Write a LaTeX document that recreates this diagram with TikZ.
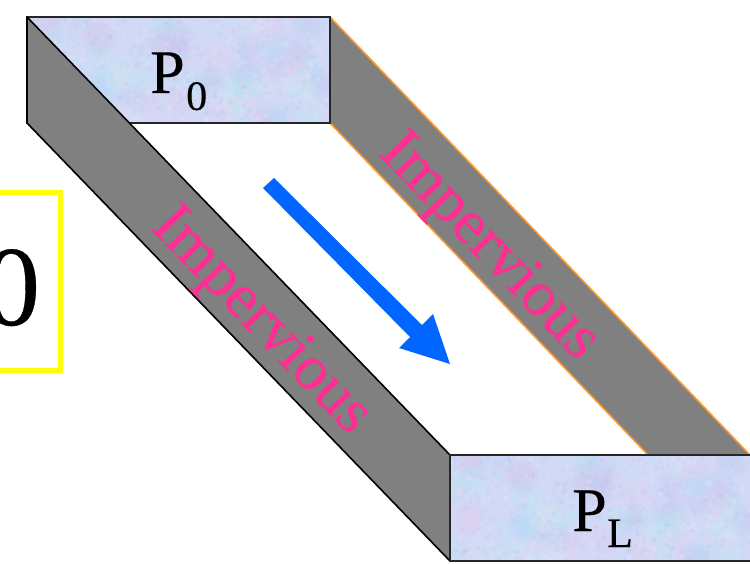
\documentclass[tikz,border=0pt]{standalone}
\usepackage{fontspec}
\setmainfont[RawFeature={embolden=0.3}]{Liberation Serif}
\definecolor{tintA}{HTML}{B0DEF8}
\definecolor{tintB}{HTML}{ECCCF0}
\definecolor{tintC}{HTML}{B4ECF0}
\definecolor{tintD}{HTML}{BCC4F0}
\definecolor{tintE}{HTML}{E6E8FA}
\definecolor{porous}{HTML}{D2D9F6}
\definecolor{wall}{HTML}{808080}
\definecolor{edgeorange}{HTML}{FF9A2E}
\definecolor{flowblue}{HTML}{0066FF}
\definecolor{labelpink}{HTML}{FF2E93}
\definecolor{boxyellow}{HTML}{FFFF00}
\pgfmathdeclarerandomlist{tints}{{tintA}{tintB}{tintC}{tintD}{tintE}}
\newcommand{\mottle}[2]{%
  \begin{scope}[shift={(#1,#2)}]
    \clip (0,0) rectangle (303,106);
    \fill[porous] (0,0) rectangle (303,106);
    \pgfmathsetseed{4711}
    \foreach \k in {1,...,60}{%
      \pgfmathsetmacro\rx{rnd*303}\pgfmathsetmacro\ry{rnd*106}%
      \pgfmathrandomitem{\tint}{tints}%
      \fill[\tint,opacity=.12] (\rx,\ry) circle[radius=17];
      \fill[\tint,opacity=.12] (\rx,\ry) circle[radius=12];
      \fill[\tint,opacity=.12] (\rx,\ry) circle[radius=7];
    }
    \foreach \k in {1,...,1100}{%
      \pgfmathsetmacro\rx{rnd*303}\pgfmathsetmacro\ry{rnd*106}%
      \pgfmathrandomitem{\tint}{tints}%
      \fill[\tint,opacity=.22] (\rx,\ry) circle[radius=2.4];
    }
  \end{scope}
}
\tikzset{
  outline/.style={draw=black!85,line width=1.8pt},
  wallface/.style={fill=wall},
  wallline/.style={draw=black,line width=1.6pt,line join=round},
  orangeline/.style={draw=edgeorange,line width=1.6pt},
  imperv/.style={text=labelpink,font=\fontsize{63.5}{64}\selectfont,rotate=-46,inner sep=0pt},
  pressure/.style={text=black,font=\fontsize{62}{62}\selectfont,inner sep=0pt,anchor=base west},
  pressuresub/.style={text=black,font=\fontsize{42}{42}\selectfont,inner sep=0pt,anchor=base west},
}
\begin{document}
\begin{tikzpicture}[x=1pt,y=-1pt]
\useasboundingbox (0,0) rectangle (750,564);
% right wall
\fill[wallface] (330,17) -- (750,455) -- (648,455) -- (330,123) -- cycle;
\draw[orangeline] (330,17) -- (750,455);
\draw[orangeline] (330,123) -- (648,455);
% inlet face
\mottle{27}{17}
\draw[outline] (27,17) rectangle (330,123);
% left wall
\path[wallface,wallline] (27,17) -- (450,455) -- (450,561) -- (27,123) -- cycle;
% outlet face
\mottle{450}{455}
\draw[outline] (450,455) rectangle (753,561);
% flow arrow
\fill[flowblue] (263,188) -- (274,178) -- (422,325) -- (433,314) -- (450,364) -- (399,348) -- (410,337) -- cycle;
% yellow box
\draw[boxyellow,line width=5pt] (-40,192.5) -- (60.5,192.5) -- (60.5,370.5) -- (-40,370.5);
% labels
\node[font=\fontsize{114}{114}\selectfont,inner sep=0pt,anchor=base west] (zero) at (-17,325) {0};
\node[pressure] (pzero) at (150,93) {P};
\node[pressuresub] (pzerosub) at (186,110) {0};
\node[pressure] (pell) at (572,531) {P};
\node[pressuresub] (pellsub) at (607,547) {L};
\node[imperv] (leftlabel) at (260,322) {Impervious};
\node[imperv] (rightlabel) at (488,248) {Impervious};
\end{tikzpicture}
\end{document}
